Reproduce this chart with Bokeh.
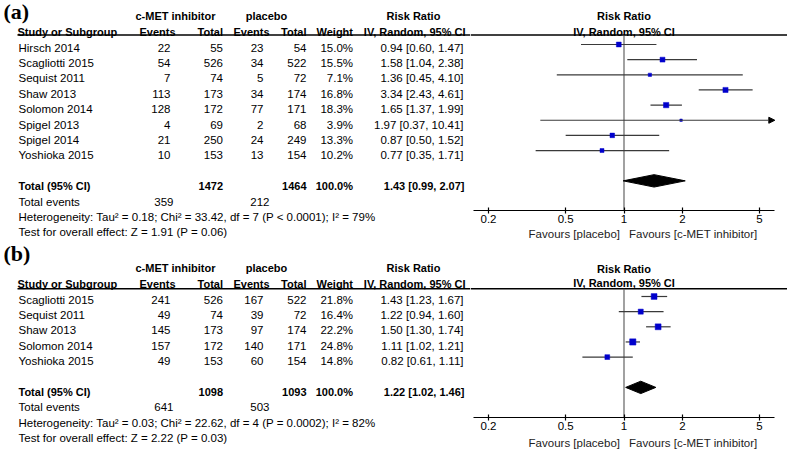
import math
from bokeh.plotting import figure
from bokeh.layouts import column, row
from bokeh.models import Range1d, FixedTicker, CustomJSTickFormatter, Arrow, NormalHead
from bokeh.core.properties import value
from bokeh.embed import file_html
from bokeh.resources import INLINE

# ---------------- data: panel (a) ----------------
a_studies = ["Hirsch 2014", "Scagliotti 2015", "Sequist 2011", "Shaw 2013",
             "Solomon 2014", "Spigel 2013", "Spigel 2014", "Yoshioka 2015"]
a_exp_events = [22, 54, 7, 113, 128, 4, 21, 10]
a_exp_total = [55, 526, 74, 173, 172, 69, 250, 153]
a_ctl_events = [23, 34, 5, 34, 77, 2, 24, 13]
a_ctl_total = [54, 522, 72, 174, 171, 68, 249, 154]
a_weight = [15.0, 15.5, 7.1, 16.8, 18.3, 3.9, 13.3, 10.2]
a_rr = [0.94, 1.58, 1.36, 3.34, 1.65, 1.97, 0.87, 0.77]
a_lo = [0.60, 1.04, 0.45, 2.43, 1.37, 0.37, 0.50, 0.35]
a_hi = [1.47, 2.38, 4.10, 4.61, 1.99, 10.41, 1.52, 1.71]
a_tot_exp_total, a_tot_ctl_total = 1472, 1464
a_tot_exp_events, a_tot_ctl_events = 359, 212
a_tot_weight = 100.0
a_tot_rr, a_tot_lo, a_tot_hi = 1.43, 0.99, 2.07
a_het = "Heterogeneity: Tau\u00b2 = 0.18; Chi\u00b2 = 33.42, df = 7 (P < 0.0001); I\u00b2 = 79%"
a_test = "Test for overall effect: Z = 1.91 (P = 0.06)"

# ---------------- data: panel (b) ----------------
b_studies = ["Scagliotti 2015", "Sequist 2011", "Shaw 2013", "Solomon 2014", "Yoshioka 2015"]
b_exp_events = [241, 49, 145, 157, 49]
b_exp_total = [526, 74, 173, 172, 153]
b_ctl_events = [167, 39, 97, 140, 60]
b_ctl_total = [522, 72, 174, 171, 154]
b_weight = [21.8, 16.4, 22.2, 24.8, 14.8]
b_rr = [1.43, 1.22, 1.50, 1.11, 0.82]
b_lo = [1.23, 0.94, 1.30, 1.02, 0.61]
b_hi = [1.67, 1.60, 1.74, 1.21, 1.11]
b_tot_exp_total, b_tot_ctl_total = 1098, 1093
b_tot_exp_events, b_tot_ctl_events = 641, 503
b_tot_weight = 100.0
b_tot_rr, b_tot_lo, b_tot_hi = 1.22, 1.02, 1.46
b_het = "Heterogeneity: Tau\u00b2 = 0.03; Chi\u00b2 = 22.62, df = 4 (P = 0.0002); I\u00b2 = 82%"
b_test = "Test for overall effect: Z = 2.22 (P = 0.03)"

# ---------------- axis ----------------
TICKS = [0.2, 0.5, 1, 2, 5]
TICK_LABELS = ["0.2", "0.5", "1", "2", "5"]
AXIS_LO, AXIS_HI = 1 / 6, 6

# ---------------- styling / layout ----------------
SANS = "Liberation Sans"
FS = "11.5px"
FSB = "11px"
TABLE_W, FOREST_W = 470, 317
ONE_PX = 153.5          # screen x of RR = 1 inside forest figure
DECADE_PX = 193.8       # pixels per log10 decade
X0 = 10 ** (-ONE_PX / DECADE_PX)
X1 = 10 ** ((FOREST_W - ONE_PX) / DECADE_PX)
ROW = 15.4
ROW_F = 15.15
SQ_BLUE = "#0000CC"
INK = "#000000"
CI_INK = "#3a3a3a"


def txt(p, xs, ys, texts, align="left", bold=False, font=SANS, size=None, color=INK,
        x_offset=0):
    if size is None:
        size = FSB if bold else FS
    p.text(x=xs, y=ys, text=texts, text_align=align, text_baseline="middle",
           text_font=value(font), text_font_size=size,
           text_font_style="bold" if bold else "normal",
           text_color=color, x_offset=x_offset)


def make_panel(tag, studies, ee, et, ce, ct, w, rr, lo, hi,
               t_et, t_ct, t_ee, t_ce, t_w, t_rr, t_lo, t_hi, het, test, H, lay):
    n = len(studies)
    ys = [lay["row0"] + i * ROW for i in range(n)]
    y_tot = lay["row0"] + (n + 1) * ROW
    y_ev = y_tot + ROW
    y_het = y_ev + ROW
    y_test = y_het + ROW
    h1, h2 = lay["hdr1"], lay["hdr2"]

    # ---------- table ----------
    t = figure(width=TABLE_W, height=H, x_range=Range1d(0, TABLE_W), y_range=Range1d(H, 0),
               x_axis_location=None, y_axis_location=None, min_border=0,
               output_backend="svg", toolbar_location=None)
    t.grid.visible = False
    t.outline_line_color = None

    txt(t, [3], [lay["tag"]], [tag], bold=True, font="Liberation Serif", size="22px")
    txt(t, [175], [h1], ["c-MET inhibitor"], align="center", bold=True)
    txt(t, [266], [h1], ["placebo"], align="center", bold=True)
    txt(t, [413], [h1], ["Risk Ratio"], align="center", bold=True)
    txt(t, [17], [h2], ["Study or Subgroup"], bold=True)
    txt(t, [175, 222.5, 269, 306, 352.5, 465], [h2] * 6,
        ["Events", "Total", "Events", "Total", "Weight", "IV, Random, 95% CI"],
        align="right", bold=True)
    t.segment(x0=[17], x1=[TABLE_W], y0=[lay["line"]], y1=[lay["line"]],
              line_color=INK, line_width=1.5)

    txt(t, [18] * n, ys, studies)
    txt(t, [170] * n, ys, [str(v) for v in ee], align="right")
    txt(t, [222.5] * n, ys, [str(v) for v in et], align="right")
    txt(t, [263] * n, ys, [str(v) for v in ce], align="right")
    txt(t, [306] * n, ys, [str(v) for v in ct], align="right")
    txt(t, [352.5] * n, ys, [f"{v:.1f}%" for v in w], align="right")
    txt(t, [463] * n, ys, [f"{a:.2f} [{b:.2f}, {c:.2f}]" for a, b, c in zip(rr, lo, hi)],
        align="right")

    txt(t, [18], [y_tot], ["Total (95% CI)"], bold=True)
    txt(t, [222.5, 306, 352.5, 464], [y_tot] * 4,
        [str(t_et), str(t_ct), f"{t_w:.1f}%", f"{t_rr:.2f} [{t_lo:.2f}, {t_hi:.2f}]"],
        align="right", bold=True)
    txt(t, [18], [y_ev], ["Total events"])
    txt(t, [173, 269], [y_ev] * 2, [str(t_ee), str(t_ce)], align="right")
    txt(t, [18], [y_het], [het])
    txt(t, [18], [y_test], [test])

    # ---------- forest ----------
    ax_y = lay["axis"]
    f = figure(width=FOREST_W, height=H, x_axis_type="log",
               x_range=Range1d(X0, X1), y_range=Range1d(H, 0),
               y_axis_location=None, min_border=0,
               output_backend="svg", toolbar_location=None)
    f.grid.visible = False
    f.outline_line_color = None

    txt(f, [1], [lay["fh1"]], ["Risk Ratio"], align="center", bold=True)
    txt(f, [1], [lay["fh2"]], ["IV, Random, 95% CI"], align="center", bold=True)
    f.segment(x0=[X0], x1=[X1], y0=[lay["line"]], y1=[lay["line"]],
              line_color=INK, line_width=1.5)
    f.segment(x0=[1], x1=[1], y0=[lay["line"]], y1=[ax_y], line_color="#555555", line_width=1.1)

    yf = [lay["row0_f"] + i * ROW_F for i in range(n)]
    seg_x0, seg_x1, seg_y = [], [], []
    for l, h, y in zip(lo, hi, yf):
        if h > AXIS_HI:
            f.add_layout(Arrow(end=NormalHead(size=6, fill_color=INK, line_color=INK),
                               x_start=l, y_start=y, x_end=AXIS_HI, y_end=y,
                               line_color=CI_INK, line_width=1.2))
        else:
            seg_x0.append(l)
            seg_x1.append(h)
            seg_y.append(y)
    f.segment(x0=seg_x0, x1=seg_x1, y0=seg_y, y1=seg_y, line_color=CI_INK, line_width=1.2)
    f.scatter(x=rr, y=yf, marker="square", size=[1.25 * math.sqrt(v) for v in w],
              fill_color=SQ_BLUE, line_color=SQ_BLUE, line_width=0.5)

    yd = lay["row0_f"] + (n + 1) * ROW_F
    f.patch(x=[t_lo, t_rr, t_hi, t_rr], y=[yd, yd - 6.2, yd, yd + 6.2],
            fill_color=INK, line_color=INK)

    ax = f.xaxis[0]
    ax.fixed_location = ax_y
    ax.ticker = FixedTicker(ticks=TICKS)
    ax.formatter = CustomJSTickFormatter(
        args=dict(tvals=TICKS, tlabs=TICK_LABELS),
        code="const i = tvals.findIndex(v => Math.abs(v - tick) < 1e-9); return i >= 0 ? tlabs[i] : '';")
    ax.bounds = (AXIS_LO, AXIS_HI)
    ax.axis_line_color = INK
    ax.axis_line_width = 1.2
    ax.major_tick_line_color = INK
    ax.major_tick_line_width = 1.2
    ax.major_tick_in = 3
    ax.major_tick_out = 3
    ax.minor_tick_line_color = None
    ax.major_label_text_font = SANS
    ax.major_label_text_font_size = FS
    ax.major_label_text_color = INK
    ax.major_label_standoff = 1

    fav_y = lay["fav"]
    txt(f, [1], [fav_y], ["Favours [placebo]"], align="right", color="#222222", x_offset=-4)
    txt(f, [1], [fav_y], ["Favours [c-MET inhibitor]"], align="left", color="#222222", x_offset=5)
    return row(t, f, spacing=0)


lay_a = dict(tag=11, hdr1=15, hdr2=31, line=34.5, row0=47, fh1=15.5, fh2=31.5,
             row0_f=44, axis=210, fav=233)
lay_b = dict(tag=12.3, hdr1=26.7, hdr2=42.3, line=47.3, row0=58, fh1=27, fh2=41.5,
             row0_f=55, axis=176, fav=201)

pa = make_panel("(a)", a_studies, a_exp_events, a_exp_total, a_ctl_events, a_ctl_total,
                a_weight, a_rr, a_lo, a_hi, a_tot_exp_total, a_tot_ctl_total,
                a_tot_exp_events, a_tot_ctl_events, a_tot_weight,
                a_tot_rr, a_tot_lo, a_tot_hi, a_het, a_test, 241, lay_a)
pb = make_panel("(b)", b_studies, b_exp_events, b_exp_total, b_ctl_events, b_ctl_total,
                b_weight, b_rr, b_lo, b_hi, b_tot_exp_total, b_tot_ctl_total,
                b_tot_exp_events, b_tot_ctl_events, b_tot_weight,
                b_tot_rr, b_tot_lo, b_tot_hi, b_het, b_test, 210, lay_b)

p = column(pa, pb, spacing=0)
open("out.html", "w").write(file_html(p, INLINE))
